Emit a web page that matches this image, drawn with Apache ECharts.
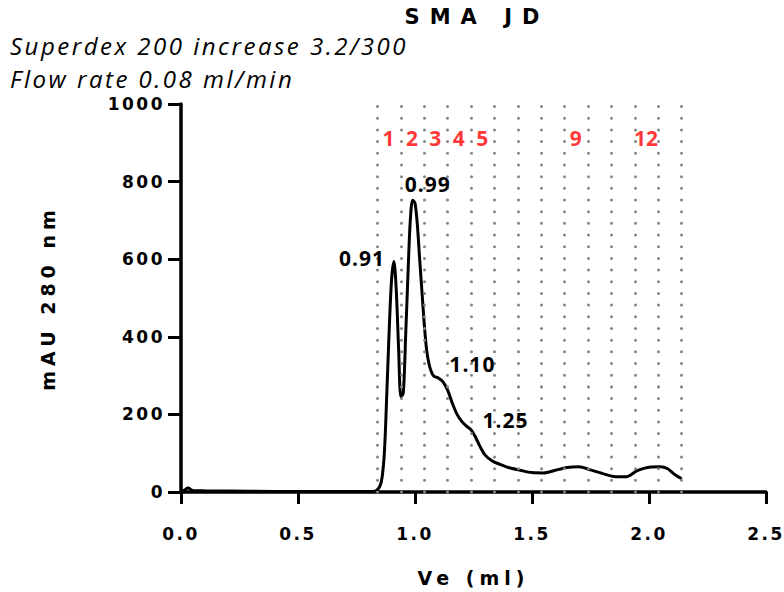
<!DOCTYPE html>
<html><head><meta charset="utf-8">
<script src="https://cdn.jsdelivr.net/npm/echarts@6/dist/echarts.min.js"></script>
<style>
html,body{margin:0;padding:0;background:#fff;}
#c{width:784px;height:592px;}
#c text[style*="DejaVu"]{letter-spacing:2.5px;}
#c text[style*="serif"]{letter-spacing:5px;}
#c text[style*="monospace"]{letter-spacing:10px;}
#c text[style*="cursive"]{letter-spacing:2.5px;}
#c text[style*="fantasy"]{letter-spacing:1px;}
</style></head><body><div id="c"></div>
<script>
// Elution volume (ml) and absorbance (mAU 280 nm)
const veMl = [0, 0.015, 0.03, 0.05, 0.1, 0.3, 0.5, 0.8, 0.83, 0.85, 0.86, 0.87, 0.88, 0.89, 0.9, 0.91, 0.92, 0.93, 0.94, 0.95, 0.96, 0.97, 0.98, 0.99, 1.0, 1.01, 1.02, 1.03, 1.04, 1.05, 1.06, 1.07, 1.08, 1.09, 1.1, 1.12, 1.14, 1.16, 1.18, 1.2, 1.22, 1.24, 1.26, 1.28, 1.3, 1.33, 1.36, 1.4, 1.45, 1.5, 1.55, 1.6, 1.65, 1.7, 1.75, 1.8, 1.85, 1.9, 1.95, 2.0, 2.05, 2.08, 2.1, 2.12, 2.14];
const mAU  = [2, 5, 10, 4, 3, 2, 1, 1, 2, 15, 40, 110, 260, 420, 548, 594, 520, 370, 245, 255, 400, 560, 700, 752, 745, 690, 600, 515, 430, 365, 330, 310, 299, 296, 294, 284, 262, 228, 200, 182, 170, 160, 140, 115, 95, 80, 72, 63, 56, 50, 49, 56, 63, 65, 57, 48, 40, 39, 55, 64, 65, 60, 50, 41, 34];

// Fraction boundaries (ml) and the labelled fractions
const fractionBounds = [0.837, 0.937, 1.037, 1.137, 1.237, 1.337, 1.437, 1.537, 1.637, 1.737, 1.837, 1.937, 2.037, 2.137];
const fractionLabels = [1, 2, 3, 4, 5, 9, 12];

// Annotated peaks
const peakVe  = [0.91, 0.99, 1.10, 1.25];
const peakMAU = [594, 753, 294, 170];

// Tick labels
const xTickLabels = ['0.0', '0.5', '1.0', '1.5', '2.0', '2.5'];
const yTickLabels = ['0', '200', '400', '600', '800', '1000'];

const chart = echarts.init(document.getElementById('c'), null, {renderer: 'svg'});

const peakOffsets = [[-32, -4], [15, -16], [34, -14], [32, -6]];

const option = {
  animation: false,
  backgroundColor: '#fff',
  grid: {left: 181, right: 16.5, top: 104, bottom: 99.5, containLabel: false},
  graphic: [
    {type: 'text', x: 477, y: 17, silent: true,
     style: {text: 'SMA JD', font: 'bold 21px DejaVu Sans, monospace', fill: '#000', align: 'center', verticalAlign: 'middle'}},
    {type: 'text', x: 10, y: 45, silent: true,
     style: {text: 'Superdex 200 increase 3.2/300', font: 'italic 24px Open Sans, cursive', fill: '#000', align: 'left', verticalAlign: 'middle'}},
    {type: 'text', x: 10, y: 78, silent: true,
     style: {text: 'Flow rate 0.08 ml/min', font: 'italic 24px Open Sans, cursive', fill: '#000', align: 'left', verticalAlign: 'middle'}}
  ],
  xAxis: {
    type: 'value', min: 0, max: 2.5, interval: 0.5,
    name: 'Ve (ml)', nameLocation: 'middle', nameGap: 76,
    nameTextStyle: {fontFamily: 'DejaVu Sans, serif', fontWeight: 'bold', fontSize: 19, color: '#000'},
    axisLine: {show: true, onZero: false, lineStyle: {color: '#000', width: 3.5}},
    axisTick: {show: true, length: 12, lineStyle: {color: '#000', width: 3}},
    axisLabel: {margin: 33, fontFamily: 'DejaVu Sans', fontWeight: 'bold', fontSize: 17, color: '#000',
      formatter: v => xTickLabels[Math.round(v / 0.5)]},
    splitLine: {show: false}
  },
  yAxis: {
    type: 'value', min: 0, max: 1000, interval: 200,
    name: 'mAU 280 nm', nameLocation: 'middle', nameGap: 124, nameRotate: 90,
    nameTextStyle: {fontFamily: 'DejaVu Sans, serif', fontWeight: 'bold', fontSize: 19, color: '#000'},
    axisLine: {show: true, lineStyle: {color: '#000', width: 3.5}},
    axisTick: {show: true, length: 13, lineStyle: {color: '#000', width: 3}},
    axisLabel: {margin: 16, fontFamily: 'DejaVu Sans', fontWeight: 'bold', fontSize: 17, color: '#000',
      formatter: v => yTickLabels[Math.round(v / 200)]},
    splitLine: {show: false}
  },
  series: [
    {
      type: 'line', data: [], silent: true, z: 1,
      markLine: {
        silent: true, symbol: 'none', animation: false,
        label: {show: false},
        lineStyle: {color: '#858585', width: 3, type: [0.01, 11.67], cap: 'round'},
        emphasis: {disabled: true},
        data: fractionBounds.map(v => ({xAxis: v}))
      }
    },
    {
      type: 'line', z: 3, silent: true,
      data: veMl.map((x, i) => [x, mAU[i]]),
      smooth: 0.3, symbol: 'none',
      lineStyle: {color: '#000', width: 3},
      markPoint: {
        silent: true, symbol: 'circle', symbolSize: 0, animation: false,
        label: {show: true, position: 'inside', color: '#000', fontFamily: 'Open Sans, fantasy', fontWeight: 'bold', fontSize: 21,
          formatter: p => p.value},
        data: peakVe.map((v, i) => ({coord: [v, peakMAU[i]], value: v.toFixed(2), label: {offset: peakOffsets[i]}}))
      }
    },
    {
      type: 'scatter', z: 4, silent: true, symbolSize: 0,
      data: fractionLabels.map(n => [(fractionBounds[n - 1] + fractionBounds[n]) / 2, 1000, n]),
      label: {show: true, position: 'inside', offset: [0, 34], color: '#ff0000', fontFamily: 'Open Sans', fontWeight: 'bold', fontSize: 21,
        formatter: p => String(p.value[2])}
    }
  ]
};
chart.setOption(option);
</script></body></html>
